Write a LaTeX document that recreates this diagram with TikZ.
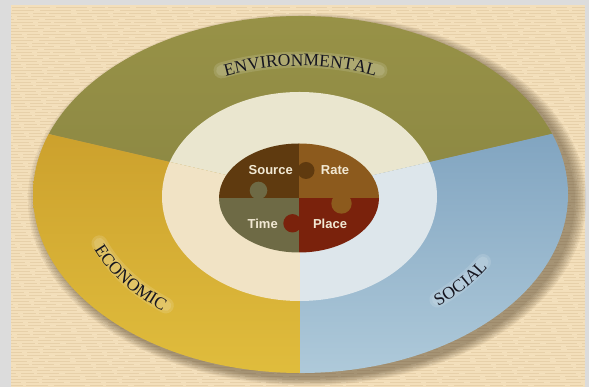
\documentclass[tikz,border=0pt]{standalone}
\usepackage{fontspec}
\setmainfont{Liberation Serif}
\newfontfamily\puzzlefont{Liberation Sans}
\newfontfamily\labelfont{Liberation Serif}
\usetikzlibrary{decorations.text}
\definecolor{bgGray}{HTML}{DCDCDC}
\definecolor{panel}{HTML}{F3DFBB}
\definecolor{panelLine}{HTML}{E3CBA2}
\definecolor{shadowCol}{HTML}{4A3A22}
\definecolor{envCol}{HTML}{8C8843}
\definecolor{envTop}{HTML}{989247}
\definecolor{ecoTop}{HTML}{C99C2A}
\definecolor{ecoBot}{HTML}{E0BD3D}
\definecolor{socTop}{HTML}{799EBC}
\definecolor{socBot}{HTML}{AFCADA}
\definecolor{ringEnv}{HTML}{EAE6CF}
\definecolor{ringEco}{HTML}{F1E3C5}
\definecolor{ringSoc}{HTML}{DDE6EB}
\definecolor{srcCol}{HTML}{5F3A0F}
\definecolor{rateCol}{HTML}{8C5A1D}
\definecolor{timeCol}{HTML}{6E6A45}
\definecolor{placeCol}{HTML}{7A220C}
\definecolor{puzText}{HTML}{F2E9D4}
\definecolor{labelInk}{HTML}{15151F}
\tikzset{
  puzzletext/.style={font=\puzzlefont\bfseries\fontsize{13}{13}\selectfont, text=puzText, inner sep=0pt},
  inktext/.style={decorate, decoration={text along path, text align=center, text color=labelInk,
      text={|\labelfont\fontsize{17.5}{20}\selectfont|#1}}},
  glowband/.style={draw=white, line cap=round, opacity=0.13, line width=#1}
}
\begin{document}
\begin{tikzpicture}[x=1pt,y=1pt]
\useasboundingbox (0,0) rectangle (589,387);
% background
\fill[bgGray] (0,0) rectangle (589,387);
\fill[panel] (11,0) rectangle (585,382);
\foreach \y [count=\i] in {2,5,...,380} {
  \pgfmathsetmacro\ph{mod(\i*37,53)}
  \draw[panelLine, line width=0.5pt, opacity=0.7, dash pattern=on 31pt off 5pt on 13pt off 3pt on 22pt off 6pt, dash phase=\ph pt] (11,\y) -- (585,\y);
}
% shadow
\foreach \i in {0,...,7} {
  \fill[shadowCol, opacity=0.07] (307,187.5) ellipse[x radius={268+1.6*\i}, y radius={179+1.0*\i}];
}
\coordinate (O) at (300.5,192.5);
\coordinate (C) at (300,195);
% outer sectors
\begin{scope}
  \clip (O) ellipse[x radius=267.5, y radius=178.5];
  \shade[top color=envTop, bottom color=envCol] (C) -- (738.5,296.2) -- (800,375) -- (-200,375) -- (-138.5,296.2) -- cycle;
  \shade[top color=ecoTop, bottom color=ecoBot] (C) -- (-138.5,296.2) -- (-200,10) -- (300,10) -- cycle;
  \shade[top color=socTop, bottom color=socBot] (C) -- (300,10) -- (800,10) -- (738.5,296.2) -- cycle;
\end{scope}
% inner ring
\begin{scope}
  \clip (299.5,190.5) ellipse[x radius=137.5, y radius=104.5];
  \fill[ringEnv] (C) -- (738.5,296.2) -- (800,375) -- (-200,375) -- (-138.5,296.2) -- cycle;
  \fill[ringEco] (C) -- (-138.5,296.2) -- (-200,10) -- (300,10) -- cycle;
  \fill[ringSoc] (C) -- (300,10) -- (800,10) -- (738.5,296.2) -- cycle;
\end{scope}
% puzzle
\begin{scope}
  \clip (299,189) ellipse[x radius=80, y radius=54.5];
  \fill[srcCol] (210,189) rectangle (299,250);
  \fill[rateCol] (299,189) rectangle (390,250);
  \fill[timeCol] (210,130) rectangle (299,189);
  \fill[placeCol] (299,130) rectangle (390,189);
  \fill[srcCol] (306,216.5) circle[radius=8.5];
  \fill[timeCol] (258.5,196.5) circle[radius=8.8];
  \fill[rateCol] (341.5,183.5) circle[radius=10.2];
  \fill[placeCol] (292.5,163.7) circle[radius=9.2];
\end{scope}
\node[puzzletext] (source) at (270.7,217) {Source};
\node[puzzletext] (rate) at (335,217) {Rate};
\node[puzzletext] (time) at (262.7,163) {Time};
\node[puzzletext] (place) at (330,163) {Place};
% soft glow behind curved labels
\foreach \w in {16,11} {
  \draw[glowband=\w pt] (O) ++(113:202 and 134.8) arc[start angle=113, end angle=67, x radius=202, y radius=134.8];
  \draw[glowband=\w pt] (O) ++(200:214 and 142.8) arc[start angle=200, end angle=231, x radius=214, y radius=142.8];
  \draw[glowband=\w pt] (O) ++(311:208.7 and 139.2) arc[start angle=311, end angle=331, x radius=208.7, y radius=139.2];
}
% curved labels
\path[inktext=ENVIRONMENTAL] (O) ++(125:192.6 and 128.5) arc[start angle=125, end angle=55, x radius=192.6, y radius=128.5];
\path[inktext=ECONOMIC] (O) ++(188:222 and 148.2) arc[start angle=188, end angle=242, x radius=222, y radius=148.2];
\path[inktext=SOCIAL] (O) ++(298:216.7 and 144.6) arc[start angle=298, end angle=344, x radius=216.7, y radius=144.6];
\end{tikzpicture}
\end{document}
